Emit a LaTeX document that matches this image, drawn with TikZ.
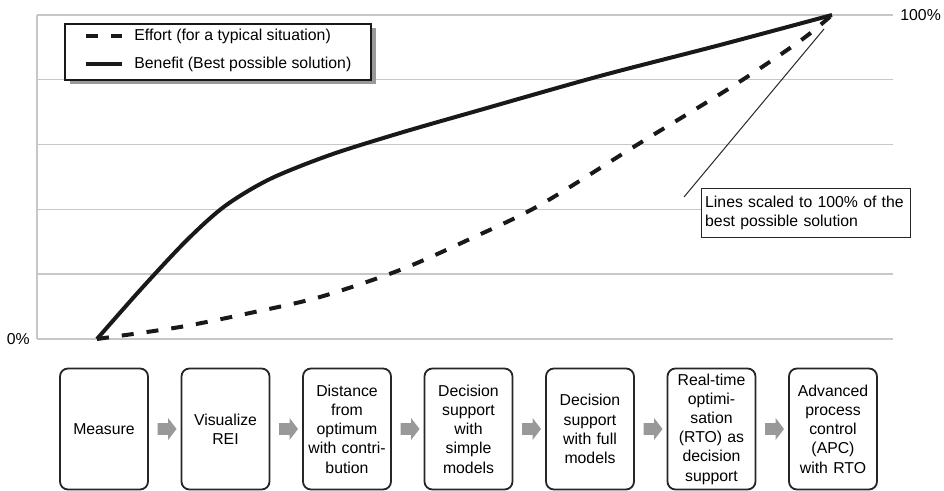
\documentclass[tikz,border=0pt]{standalone}
\usepackage{fontspec}
\setmainfont{Liberation Sans}
\usetikzlibrary{positioning, shapes.arrows, shadows}

\begin{document}
\begin{tikzpicture}[x=0.5pt, y=-0.5pt, node distance={60.75pt},
        every node/.style = {font=\fontsize{7.9}{9.6}\selectfont},
        grid/.style = {draw=black!22, line width=0.7pt},
        benefit/.style = {draw=black!90, line width=2pt, line join=round},
        effort/.style = {benefit, dash pattern=on 6pt off 6.5pt},
        stage/.style = {draw=black!85, line width=0.9pt, rounded corners=4pt, minimum width=44pt, minimum height=60.5pt, text width=40pt, inner xsep=2pt, inner ysep=1pt, align=center},
        garrow/.style = {single arrow, fill=black!40, minimum height=9.5pt, inner sep=0pt, inner ysep=2.75pt, single arrow head extend=2.5pt, single arrow tip angle=105},
        lbl/.style = {inner sep=0pt},
        legbox/.style = {draw=black!90, line width=1pt, fill=white, drop shadow={shadow xshift=2.5pt, shadow yshift=-2pt, fill=black!40, opacity=1}},
        note/.style = {draw=black!85, line width=0.7pt, fill=white, text width=101pt, inner xsep=1.75pt, minimum height=24.5pt, align=left}]
        \useasboundingbox (0,0) rectangle (944,491);

        % chart grid
        \foreach \k in {0,...,5}
            \draw[grid] (37,15+64.8*\k) -- (893,15+64.8*\k);
        \draw[grid] (37,15) -- (37,339);
        \node[lbl, anchor=west] (top) at (900,15) {100\%};
        \node[lbl, anchor=east] (zero) at (30,339) {0\%};

        % curves
        \draw[benefit] plot[smooth] coordinates {(97,339) (142,288) (187,240) (225,206) (270,179) (330,155) (400,133) (480,110) (600,76) (720,45) (832,15)};
        \draw[effort] plot[smooth] coordinates {(97,339) (180,327) (250,313) (320,297) (400,270) (470,239) (540,205) (640,143) (733,86) (800,41) (832,15)};

        % legend
        \node[legbox, minimum width=153pt, minimum height=28pt, anchor=north west] (leg) at (64,23) {};
        \node[lbl, anchor=west] (eff) at (134,36) {Effort (for a typical situation)};
        \node[lbl, anchor=west] (ben) at (134,64) {Benefit (Best possible solution)};
        \draw[effort] ([xshift=-24pt]eff.west) -- ([xshift=-6pt]eff.west);
        \draw[benefit] ([xshift=-24pt]ben.west) -- ([xshift=-6pt]ben.west);

        % remark
        \node[note, anchor=north west] (remark) at (701,188) {Lines scaled to 100\% of the\\best possible solution};
        \coordinate (foot) at (684,197);
        \coordinate (peak) at (824,29);
        \draw[black!85, line width=0.5pt] (foot) -- (peak);

        % stages
        \node[stage] (s1) at (104,429) {Measure};
        \node[stage] (s2) [right of = s1] {Visualize\\REI};
        \node[stage] (s3) [right of = s2] {Distance\\from\\optimum\\with contri-\\bution};
        \node[stage] (s4) [right of = s3] {Decision\\support\\with\\simple\\models};
        \node[stage] (s5) [right of = s4] {Decision\\support\\with full\\models};
        \node[stage] (s6) [right of = s5] {Real-time\\optimi-\\sation\\(RTO) as\\decision\\support};
        \node[stage] (s7) [right of = s6] {Advanced\\process\\control\\(APC)\\with RTO};

        \foreach \a/\b in {s1/s2, s2/s3, s3/s4, s4/s5, s5/s6, s6/s7}
            \path (\a) -- (\b) node[midway, garrow] {};
\end{tikzpicture}
\end{document}
